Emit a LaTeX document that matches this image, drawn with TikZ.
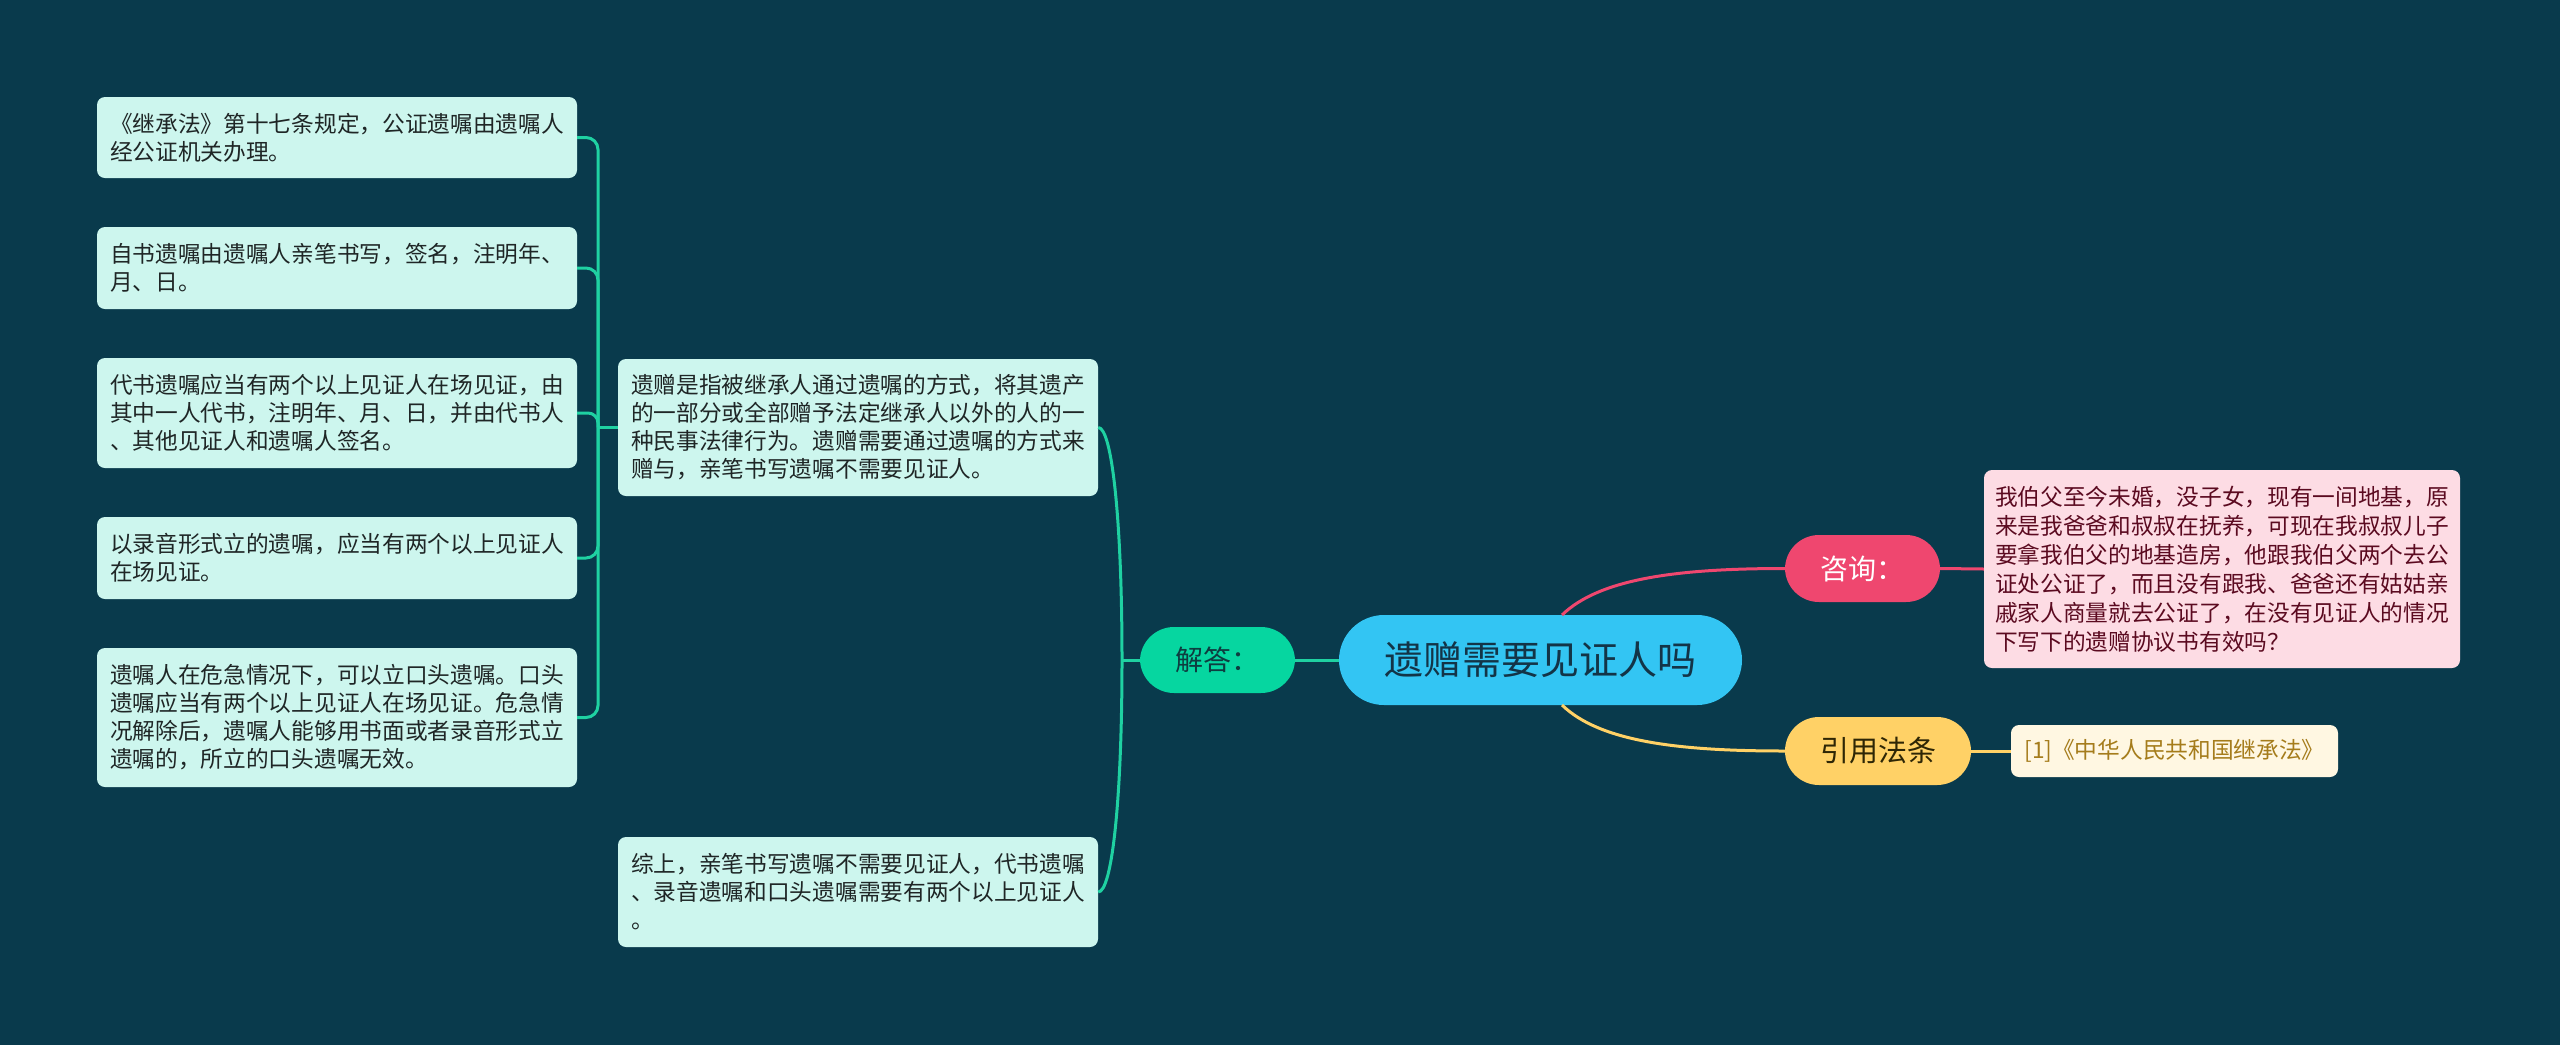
\documentclass[tikz,border=0pt]{standalone}
\usepackage{fontspec}
\setmainfont{Noto Sans CJK SC}
\definecolor{bg}{HTML}{093A4C}
\definecolor{centralfill}{HTML}{33C5F3}
\definecolor{centraltext}{HTML}{133447}
\definecolor{greenfill}{HTML}{06D6A0}
\definecolor{greentext}{HTML}{0E3D40}
\definecolor{leaffill}{HTML}{CDF6EE}
\definecolor{leaftext}{HTML}{1F2626}
\definecolor{gline}{HTML}{1FD1A2}
\definecolor{pinkfill}{HTML}{EF476F}
\definecolor{pinkbox}{HTML}{FDDCE4}
\definecolor{pinktext}{HTML}{5B0A20}
\definecolor{yellowfill}{HTML}{FFD166}
\definecolor{yellowtext}{HTML}{2E2605}
\definecolor{refbox}{HTML}{FFF7E2}
\definecolor{reftext}{HTML}{A57C1B}
\tikzset{
  leafbox/.style={rectangle, rounded corners=8pt, fill=leaffill, text=leaftext,
    font=\fontsize{22.7}{28}\selectfont, text width=454pt, align=left,
    inner xsep=13pt, inner ysep=0pt},
  pinkleaf/.style={rectangle, rounded corners=8pt, fill=pinkbox, text=pinktext,
    font=\fontsize{22.7}{29}\selectfont, text width=454pt, align=left,
    inner xsep=11pt, inner ysep=0pt},
  capsule/.style={rectangle, rounded corners=34pt, inner sep=0pt, align=center},
  gconn/.style={draw=gline, line width=3pt},
  pconn/.style={draw=pinkfill, line width=3pt},
  yconn/.style={draw=yellowfill, line width=3pt},
}
\begin{document}
\begin{tikzpicture}[x=1pt,y=-1pt]
\fill[bg] (0,0) rectangle (2560,1045);
\useasboundingbox (0,0) rectangle (2560,1045);

\coordinate (J) at (598,427.5);
\coordinate (K) at (1122,660);

% nodes
\node[capsule, rounded corners=45pt, fill=centralfill, text=centraltext,
  minimum width=403pt, minimum height=90pt,
  font=\fontsize{39}{44}\selectfont] (root) at (1540.5,660) {遗赠需要见证人吗};

\node[capsule, fill=greenfill, text=greentext, minimum width=155pt, minimum height=66pt,
  font=\fontsize{28}{32}\selectfont] (jd) at (1217.5,660) {解答：};

\node[capsule, fill=pinkfill, text=white, minimum width=155pt, minimum height=67pt,
  font=\fontsize{28}{32}\selectfont] (zx) at (1862.5,568.5) {咨询：};

\node[capsule, fill=yellowfill, text=yellowtext, minimum width=186pt, minimum height=68pt,
  font=\fontsize{29}{32}\selectfont] (yy) at (1878,751) {引用法条};

\node[pinkleaf, minimum height=198pt] (q) at (2222,569)
{我伯父至今未婚，没子女，现有一间地基，原\\
来是我爸爸和叔叔在抚养，可现在我叔叔儿子\\
要拿我伯父的地基造房，他跟我伯父两个去公\\
证处公证了，而且没有跟我、爸爸还有姑姑亲\\
戚家人商量就去公证了，在没有见证人的情况\\
下写下的遗赠协议书有效吗？};

\node[rectangle, rounded corners=8pt, fill=refbox, text=reftext, inner sep=0pt,
  minimum width=327pt, minimum height=52pt,
  font=\fontsize{22.7}{28}\selectfont] (ref) at (2174.5,751) {[1]《中华人民共和国继承法》};

\node[leafbox, minimum height=137pt] (b6) at (858,427.5)
{遗赠是指被继承人通过遗嘱的方式，将其遗产\\
的一部分或全部赠予法定继承人以外的人的一\\
种民事法律行为。遗赠需要通过遗嘱的方式来\\
赠与，亲笔书写遗嘱不需要见证人。};

\node[leafbox, minimum height=110pt] (b7) at (858,892)
{综上，亲笔书写遗嘱不需要见证人，代书遗嘱\\
、录音遗嘱和口头遗嘱需要有两个以上见证人\\
。};

\node[leafbox, minimum height=81pt] (b1) at (337,137.5)
{《继承法》第十七条规定，公证遗嘱由遗嘱人\\
经公证机关办理。};

\node[leafbox, minimum height=82pt] (b2) at (337,268)
{自书遗嘱由遗嘱人亲笔书写，签名，注明年、\\
月、日。};

\node[leafbox, minimum height=110pt] (b3) at (337,413)
{代书遗嘱应当有两个以上见证人在场见证，由\\
其中一人代书，注明年、月、日，并由代书人\\
、其他见证人和遗嘱人签名。};

\node[leafbox, minimum height=82pt] (b4) at (337,558)
{以录音形式立的遗嘱，应当有两个以上见证人\\
在场见证。};

\node[leafbox, minimum height=139pt] (b5) at (337,717.5)
{遗嘱人在危急情况下，可以立口头遗嘱。口头\\
遗嘱应当有两个以上见证人在场见证。危急情\\
况解除后，遗嘱人能够用书面或者录音形式立\\
遗嘱的，所立的口头遗嘱无效。};

% connectors
\draw[gconn] (root.west) -- (jd.east);
\draw[gconn] (jd.west) -- (K);
\draw[gconn] (K) .. controls (1122,520) and (1112,427.5) .. (b6.east);
\draw[gconn] (K) .. controls (1122,800) and (1112,892) .. (b7.east);
\draw[gconn] (b6.west) -- (J);
\draw[gconn, rounded corners=12pt] (J) |- (b1.east);
\draw[gconn, rounded corners=12pt] (J) |- (b2.east);
\draw[gconn, rounded corners=10pt] (J) |- (b3.east);
\draw[gconn, rounded corners=12pt] (J) |- (b4.east);
\draw[gconn, rounded corners=12pt] (J) |- (b5.east);

\coordinate (pA) at (1562,615);
\coordinate (yA) at (1562,705);
\draw[pconn] (pA) .. controls (1600,578) and (1680,568.5) .. (zx.west);
\draw[yconn] (yA) .. controls (1600,742) and (1680,751) .. (yy.west);
\draw[pconn] (zx.east) -- (q.west);
\draw[yconn] (yy.east) -- (ref.west);
\end{tikzpicture}
\end{document}
